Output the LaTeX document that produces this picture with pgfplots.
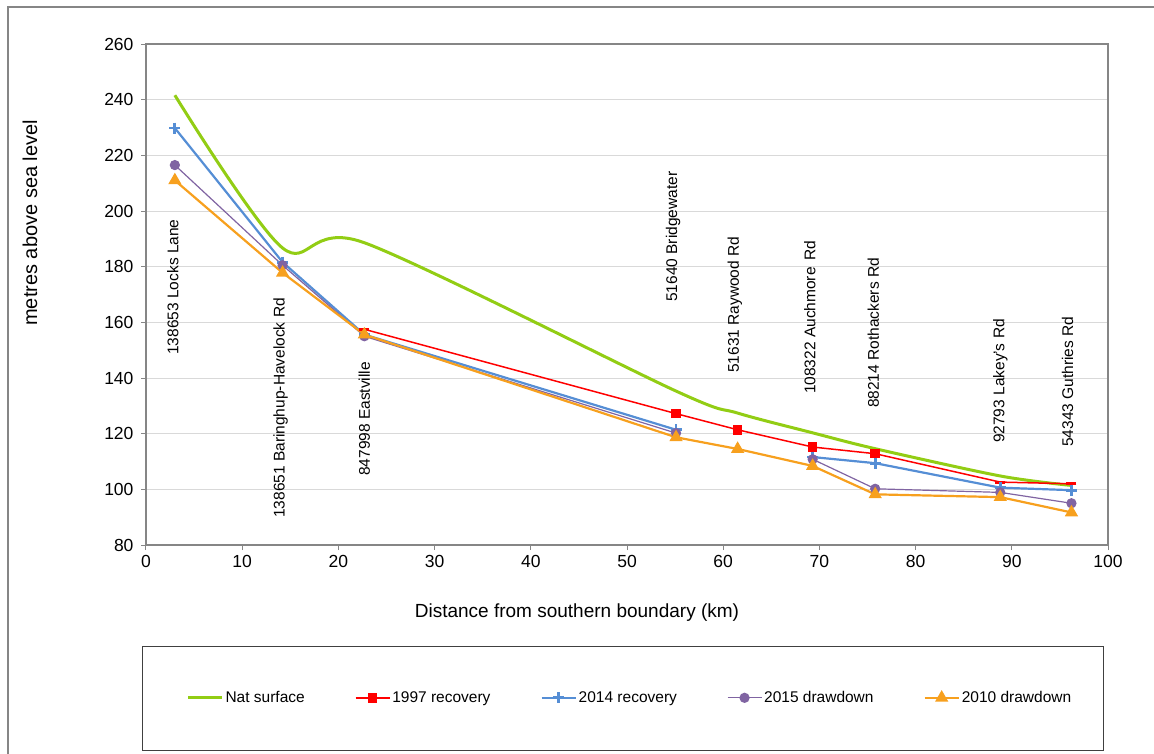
\documentclass[border=0pt]{standalone}
\usepackage{fontspec}
\setmainfont{Liberation Sans}
\usepackage{pgfplots}
\pgfplotsset{compat=1.18}
\definecolor{natgreen}{RGB}{146,205,20}
\definecolor{rblue}{RGB}{85,142,213}
\definecolor{dpurple}{RGB}{128,100,162}
\definecolor{dorange}{RGB}{247,160,30}
\definecolor{axgray}{RGB}{134,134,134}
\definecolor{gridgray}{RGB}{217,217,217}
\newcommand{\lblfont}{\fontsize{15.5}{18}\selectfont}
\begin{document}
\begin{tikzpicture}
\path[use as bounding box] (-146pt,-208pt) rectangle (1008pt,545pt);
\begin{axis}[name=ax, at={(0pt,0pt)}, anchor=south west,
  scale only axis, width=962pt, height=501pt,
  xmin=0, xmax=100, ymin=80, ymax=260,
  xtick={0,10,...,100}, ytick={80,100,...,260},
  xtick pos=bottom, ytick pos=left,
  ymajorgrids, grid style={draw=gridgray, line width=1pt},
  axis line style={draw=axgray, line width=1.2pt},
  tick style={draw=axgray, line width=1pt},
  tick align=outside, major tick length=5pt,
  tick label style={font=\fontsize{17.5}{20}\selectfont},
  /pgf/number format/assume math mode=true,
  yticklabel style={xshift=-4pt},
  xticklabel style={yshift=-2pt},
  xlabel={Distance from southern boundary (km)},
  ylabel={metres above sea level},
  xlabel style={font=\fontsize{19}{22}\selectfont, at={(axis description cs:0.448,-0.134)}, anchor=center},
  ylabel style={font=\fontsize{20}{23}\selectfont, at={(axis description cs:-0.1206,0.643)}, anchor=center, rotate=0},
  unbounded coords=jump,
  clip=false,
  legend columns=5,
  legend style={draw=none, fill=none, at={(axis description cs:0.503,-0.305)}, anchor=center,
    font=\lblfont, /tikz/every even column/.append style={column sep=48pt}},
  legend image code/.code={\draw[mark indices={2}] plot coordinates {(0pt,0pt)(17pt,0pt)(34pt,0pt)};},
]
\addplot[natgreen, line width=3pt, smooth, no markers] coordinates {
(3.0,241.6) (14.2,186.7) (22.7,188.6) (55.1,135.3) (61.5,127.4) (69.3,120.3) (75.8,114.6) (88.8,104.8) (96.2,101.4)};
\addlegendentry{Nat surface}
\addplot[red, line width=1.5pt, mark=square*, mark size=4pt, mark indices={2,3,4,5}, mark options={solid}] coordinates {
(22.7,157.5) (55.1,127.2) (61.5,121.4) (69.3,115.2) (75.8,112.8) (88.8,102.6) (96.2,102.0)};
\addlegendentry{1997 recovery}
\addplot[red, line width=3pt, only marks, mark=-, mark size=5pt, mark indices={1,6,7}, forget plot] coordinates {
(22.7,157.5) (55.1,127.2) (61.5,121.4) (69.3,115.2) (75.8,112.8) (88.8,102.6) (96.2,102.0)};
\addplot[rblue, line width=2.2pt, mark=+, mark size=5.5pt, mark options={line width=2.8pt}] coordinates {
(3.0,229.8) (14.2,181.6) (22.7,155.6) (55.1,121.4) (61.5,nan) (69.3,111.6) (75.8,109.4) (88.8,100.6) (96.2,99.7)};
\addlegendentry{2014 recovery}
\addplot[dpurple, line width=1.2pt, mark=*, mark size=4.5pt] coordinates {
(3.0,216.5) (14.2,180.5) (22.7,155.0) (55.1,120.2) (61.5,nan) (69.3,110.8) (75.8,100.2) (88.8,98.9) (96.2,95.0)};
\addlegendentry{2015 drawdown}
\addplot[dorange, line width=2.2pt, mark=triangle*, mark size=5.5pt] coordinates {
(3.0,211.0) (14.2,177.8) (22.7,155.6) (55.1,118.7) (61.5,114.5) (69.3,108.4) (75.8,98.2) (88.8,97.2) (96.2,91.7)};
\addlegendentry{2010 drawdown}
\begin{scope}[every node/.style={font=\lblfont, rotate=90, anchor=west, inner sep=0pt}]
\node at (axis cs:2.8,148.3) {138653 Locks Lane};
\node at (axis cs:14.0,89.7) {138651 Baringhup-Havelock Rd};
\node at (axis cs:22.7,104.8) {847998 Eastville};
\node at (axis cs:54.8,167.3) {51640 Bridgewater};
\node at (axis cs:61.2,141.8) {51631 Raywood Rd};
\node at (axis cs:69.0,134.2) {108322 Auchmore\ \,Rd};
\node at (axis cs:75.6,129.2) {88214 Rothackers Rd};
\node at (axis cs:88.8,116.6) {92793 Lakey's Rd};
\node at (axis cs:95.8,115.2) {54343 Guthries Rd};
\end{scope}
\draw[axgray, line width=1.2pt] (rel axis cs:0,1) -- (rel axis cs:1,1) -- (rel axis cs:1,0);
\end{axis}
\begin{scope}[shift={(ax.south west)}]
\draw[black!75, line width=1pt] (-4pt,-101pt) rectangle (957pt,-205pt);
\draw[axgray, line width=2pt] (-138pt,-215pt) -- (-138pt,538pt) -- (1015pt,538pt);
\end{scope}
\end{tikzpicture}
\end{document}
